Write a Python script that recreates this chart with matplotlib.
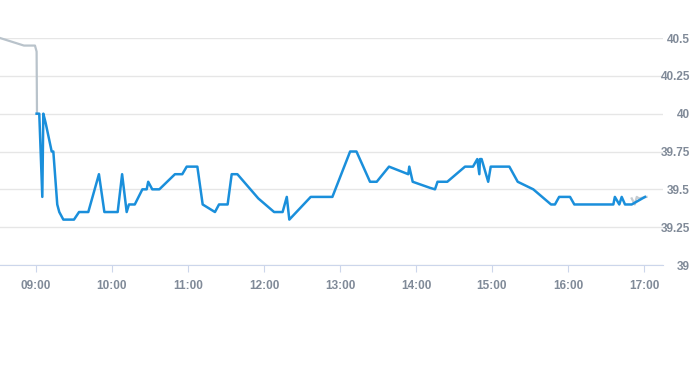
import matplotlib
matplotlib.use('Agg')
import matplotlib.pyplot as plt

plt.rcParams['font.family'] = ['Liberation Sans', 'DejaVu Sans']

# minutes after 09:00
pre_t = [-28.4, -9.5, -0.8, 0.5, 0.8]
pre_p = [40.50, 40.45, 40.45, 40.41, 40.00]

day_t = [0.5, 2.6, 5.0, 5.8, 7.6, 12.4, 13.7, 16.8, 18.4, 21.6, 30.0, 34.0, 41.3, 49.7, 54.0,
         64.5, 68.0, 71.6, 73.4, 78.0, 84.0, 87.4, 88.6, 91.8, 97.4, 109.7, 115.5, 119.0,
         127.4, 131.6, 141.3, 144.5, 151.3, 154.5, 159.0, 175.5, 188.0, 194.7, 198.0, 200.0,
         216.9, 234.0, 248.0, 253.0, 263.7, 269.0, 278.7, 293.9, 294.7, 297.4, 311.0, 315.0,
         317.0, 324.7, 338.7, 345.0, 348.4, 350.0, 350.5, 351.8, 357.0, 359.0, 373.7, 380.3,
         392.6, 406.6, 409.7, 413.0, 421.6, 425.0, 455.8, 457.0, 460.5, 462.4, 465.0, 470.3,
         480.8]
day_p = [40.00, 40.00, 39.45, 40.00, 39.94, 39.75, 39.75, 39.40, 39.35, 39.30, 39.30, 39.35,
         39.35, 39.60, 39.35, 39.35, 39.60, 39.35, 39.40, 39.40, 39.50, 39.50, 39.55, 39.50,
         39.50, 39.60, 39.60, 39.65, 39.65, 39.40, 39.35, 39.40, 39.40, 39.60, 39.60, 39.44,
         39.35, 39.35, 39.45, 39.30, 39.45, 39.45, 39.75, 39.75, 39.55, 39.55, 39.65, 39.60,
         39.65, 39.55, 39.51, 39.50, 39.55, 39.55, 39.65, 39.65, 39.70, 39.60, 39.70, 39.70,
         39.55, 39.65, 39.65, 39.55, 39.50, 39.40, 39.40, 39.45, 39.45, 39.40, 39.40, 39.45,
         39.40, 39.45, 39.40, 39.40, 39.45]

post_t = [470.3, 472.7, 474.3, 476.0, 482.0]
post_p = [39.44, 39.40, 39.45, 39.44, 39.45]

x_ticks = [0, 60, 120, 180, 240, 300, 360, 420, 480]
x_labels = ['09:00', '10:00', '11:00', '12:00', '13:00', '14:00', '15:00', '16:00', '17:00']
y_ticks = [39, 39.25, 39.5, 39.75, 40, 40.25, 40.5]
y_labels = ['39', '39.25', '39.5', '39.75', '40', '40.25', '40.5']

fig = plt.figure(figsize=(6.93, 3.65), dpi=100)
ax = fig.add_axes([0, 1 - 265/365, 663/693, (265 - 38)/365])

ax.plot(pre_t, pre_p, color='#b9c3cb', lw=1.6, clip_on=False, zorder=3)
ax.plot(post_t, post_p, color='#c4cbd1', lw=1.6, zorder=3)
ax.plot(day_t, day_p, color='#1a8fdb', lw=1.8, zorder=4)

ax.set_xlim(-28.4, 495)
ax.set_ylim(39, 40.5)
ax.set_xticks(x_ticks)
ax.set_xticklabels(x_labels)
ax.set_yticks(y_ticks)
ax.set_yticklabels(y_labels)
ax.yaxis.tick_right()
ax.grid(axis='y', color='#e6e6e6', lw=1)
ax.set_axisbelow(True)
for s in ['top', 'left', 'right']:
    ax.spines[s].set_visible(False)
ax.spines['bottom'].set_color('#ccd6eb')
ax.tick_params(axis='x', length=5, color='#ccd6eb', labelcolor='#808a98', labelsize=8.5, pad=6)
ax.tick_params(axis='y', length=0, labelcolor='#808a98', labelsize=8.5, pad=0)
for lab in ax.get_xticklabels() + ax.get_yticklabels():
    lab.set_fontweight('bold')
for lab in ax.get_yticklabels():
    lab.set_horizontalalignment('right')
    lab.set_x(690/663)

fig.savefig('out.png', dpi=100)
